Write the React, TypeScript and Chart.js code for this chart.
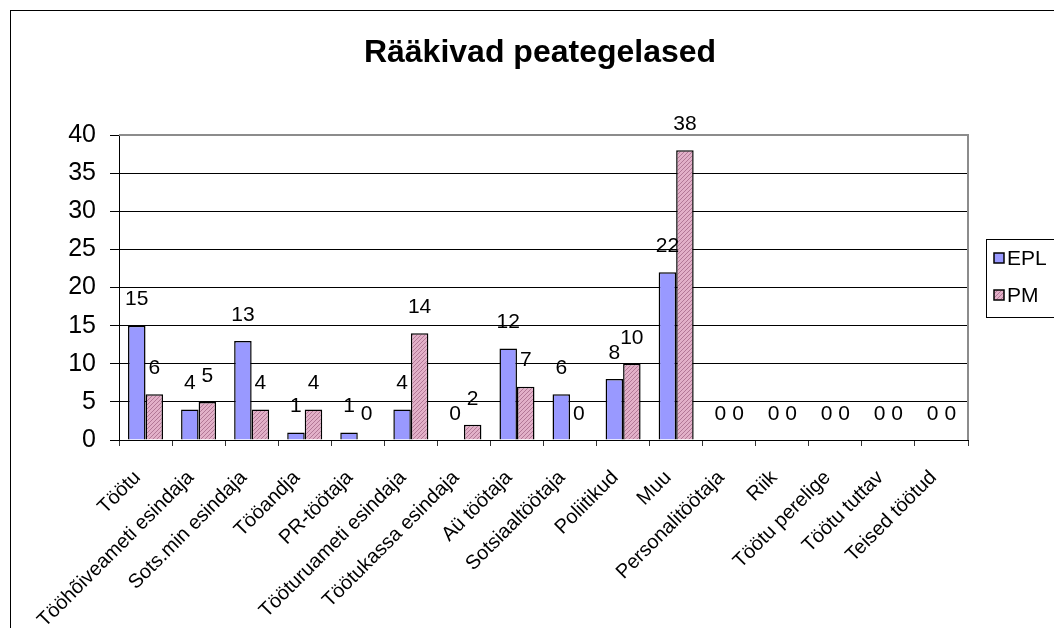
import React, { useEffect, useRef } from "react";
import { Chart, registerables } from "chart.js";

Chart.register(...registerables);

const TITLE = "Rääkivad peategelased";
const CATEGORIES = [
  "Töötu",
  "Tööhõiveameti esindaja",
  "Sots.min esindaja",
  "Tööandja",
  "PR-töötaja",
  "Tööturuameti esindaja",
  "Töötukassa esindaja",
  "Aü töötaja",
  "Sotsiaaltöötaja",
  "Poliitikud",
  "Muu",
  "Personalitöötaja",
  "Riik",
  "Töötu perelige",
  "Töötu tuttav",
  "Teised töötud",
];
const EPL = [15, 4, 13, 1, 1, 4, 0, 12, 6, 8, 22, 0, 0, 0, 0, 0];
const PM = [6, 5, 4, 4, 0, 14, 2, 7, 0, 10, 38, 0, 0, 0, 0, 0];
const SERIES_NAMES = ["EPL", "PM"];
const Y_MIN = 0;
const Y_MAX = 40;
const Y_STEP = 5;

const FONT = "'Liberation Sans', Arial, sans-serif";

function makePattern(): CanvasPattern | string {
  const c = document.createElement("canvas");
  c.width = 4;
  c.height = 4;
  const g = c.getContext("2d");
  if (!g) return "#cc99b3";
  g.fillStyle = "#e2b0c8";
  g.fillRect(0, 0, 4, 4);
  g.fillStyle = "#b27896";
  for (let i = 0; i < 4; i++) {
    g.fillRect(i, 3 - i, 1, 1);
  }
  const p = g.createPattern(c, "repeat");
  return p || "#cc99b3";
}

export default function App() {
  const ref = useRef<HTMLCanvasElement | null>(null);

  useEffect(() => {
    document.body.style.margin = "0";
    const canvas = ref.current;
    if (!canvas) return;
    const pmFill = makePattern();
    const eplFill = "#9999ff";

    const decor = {
      id: "decor",
      afterDraw(chart: any) {
        const ctx = chart.ctx;
        const a = chart.chartArea;
        ctx.save();
        // outer frame
        ctx.strokeStyle = "#000";
        ctx.lineWidth = 1;
        ctx.strokeRect(10.5, 10.5, 1200, 800);
        // plot border top/right
        ctx.strokeStyle = "#8c8c8c";
        ctx.lineWidth = 2;
        ctx.beginPath();
        ctx.moveTo(a.left, a.top);
        ctx.lineTo(a.right, a.top);
        ctx.lineTo(a.right, a.bottom);
        ctx.stroke();
        // title
        ctx.fillStyle = "#000";
        ctx.font = `bold 32px ${FONT}`;
        ctx.textAlign = "center";
        ctx.textBaseline = "middle";
        ctx.fillText(TITLE, 540, 53);
        // legend
        ctx.strokeStyle = "#000";
        ctx.lineWidth = 1;
        ctx.strokeRect(986.5, 239.5, 200, 78);
        const fills = [eplFill, pmFill];
        const ys = [258, 295];
        ctx.font = `21px ${FONT}`;
        ctx.textAlign = "left";
        for (let i = 0; i < 2; i++) {
          ctx.fillStyle = fills[i] as any;
          ctx.fillRect(994, ys[i] - 5, 10, 10);
          ctx.strokeStyle = "#000";
          ctx.lineWidth = 1.5;
          ctx.strokeRect(994, ys[i] - 5, 10, 10);
          ctx.fillStyle = "#000";
          ctx.fillText(chart.data.datasets[i].label, 1007, ys[i] + 1);
        }
        ctx.restore();
      },
      afterDatasetsDraw(chart: any) {
        const ctx = chart.ctx;
        ctx.save();
        ctx.fillStyle = "#000";
        ctx.font = `21px ${FONT}`;
        ctx.textAlign = "center";
        ctx.textBaseline = "middle";
        chart.data.datasets.forEach((ds: any, di: number) => {
          const meta = chart.getDatasetMeta(di);
          meta.data.forEach((bar: any, i: number) => {
            ctx.fillText(String(ds.data[i]), bar.x, bar.y - 26);
          });
        });
        ctx.restore();
      },
    };

    const chart = new Chart(canvas, {
      type: "bar",
      data: {
        labels: CATEGORIES,
        datasets: [
          {
            label: SERIES_NAMES[0],
            data: EPL,
            backgroundColor: eplFill,
            borderColor: "#000",
            borderWidth: 1.5,
            categoryPercentage: 0.66,
            barPercentage: 1,
          },
          {
            label: SERIES_NAMES[1],
            data: PM,
            backgroundColor: pmFill as any,
            borderColor: "#000",
            borderWidth: 1.5,
            categoryPercentage: 0.66,
            barPercentage: 1,
          },
        ],
      },
      options: {
        animation: false,
        responsive: false,
        maintainAspectRatio: false,
        layout: { padding: { left: 10, right: 86, top: 135, bottom: 0 } },
        plugins: {
          legend: { display: false },
          title: { display: false },
          tooltip: { enabled: false },
        },
        scales: {
          x: {
            afterFit: (s: any) => {
              s.height = 188;
            },
            grid: {
              drawOnChartArea: false,
              drawTicks: true,
              tickLength: 6,
              color: "#333",
              offset: true,
            },
            border: { color: "#000", width: 1 },
            ticks: {
              autoSkip: false,
              maxRotation: 45,
              minRotation: 45,
              padding: 20,
              labelOffset: -8,
              color: "#000",
              font: { family: FONT, size: 20 },
            },
          },
          y: {
            min: Y_MIN,
            max: Y_MAX,
            afterFit: (s: any) => {
              s.width = 109;
            },
            grid: {
              color: "#000",
              lineWidth: 1,
              tickLength: 9,
            },
            border: { color: "#000", width: 1 },
            ticks: {
              stepSize: Y_STEP,
              padding: 14,
              color: "#000",
              font: { family: FONT, size: 25 },
            },
          },
        },
      },
      plugins: [decor],
    });
    return () => chart.destroy();
  }, []);

  return (
    <div style={{ width: 1054, height: 628, background: "#fff" }}>
      <canvas ref={ref} width={1054} height={628} style={{ display: "block" }} />
    </div>
  );
}
